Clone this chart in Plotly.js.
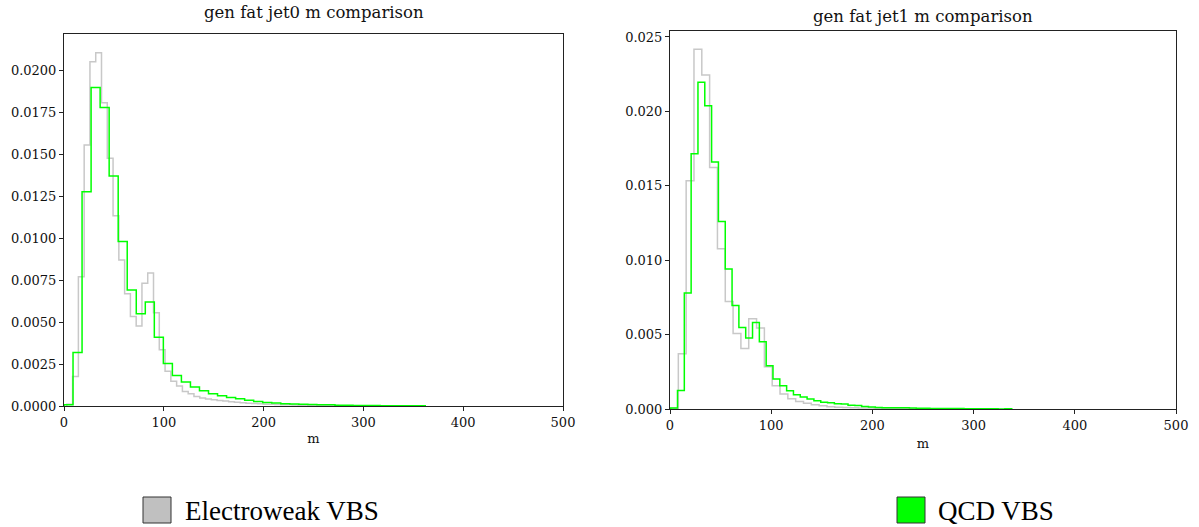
<!DOCTYPE html>
<html>
<head>
<meta charset="utf-8">
<script src="https://cdn.plot.ly/plotly-3.0.1.min.js"></script>
<style>html,body{margin:0;padding:0;background:#fff;}#chart{width:1199px;height:527px;}</style>
</head>
<body>
<div id="chart"></div>
<script>
// ---- Data ----
const seriesNames = ["Electroweak VBS", "QCD VBS"];

// jet0 mass, Electroweak VBS (bins start 2.84, width 5.79)
const ewkJet0Start = 2.84, ewkJet0Width = 5.79;
const ewkJet0 = [0.0001, 0.00176, 0.00772, 0.01557, 0.02054, 0.02108, 0.0181, 0.01478, 0.01136, 0.00872,
  0.0067, 0.00534, 0.00478, 0.00733, 0.00794, 0.00556, 0.00335, 0.00208, 0.00148, 0.0012,
  0.00086, 0.00073, 0.00057, 0.00047, 0.00042, 0.00037, 0.00033, 0.0003, 0.00025, 0.00022,
  0.0002, 0.00017, 0.00015, 0.00013, 0.00011, 0.0001, 0.00009, 0.00008, 0.00007, 0.00006,
  0.00005, 0.00005, 0.00004, 0.00004, 0.00003, 0.00003, 0.00003, 0.00002, 0.00002, 0.00002];

// jet0 mass, QCD VBS (bins start 0, width 9.05)
const qcdJet0Start = 0, qcdJet0Width = 9.05;
const qcdJet0 = [0.00007, 0.00319, 0.01279, 0.01901, 0.01782, 0.01372, 0.00981, 0.00693, 0.0055, 0.0062,
  0.00411, 0.00254, 0.00182, 0.00143, 0.00113, 0.00091, 0.00073, 0.00061, 0.00051, 0.00043,
  0.00035, 0.00027, 0.00021, 0.00018, 0.00014, 0.00012, 0.0001, 0.00009, 0.00008, 0.00007,
  0.00004, 0.00004, 0.00003, 0.00003, 0.00003, 0.00002, 0.00002, 0.00002, 0.00002, 0.00001];

// jet1 mass, Electroweak VBS (bins start 0.5, width 7.73)
const ewkJet1Start = 0.5, ewkJet1Width = 7.73;
const ewkJet1 = [0.00005, 0.00371, 0.01533, 0.02418, 0.02245, 0.01623, 0.01077, 0.00723, 0.00508, 0.00407,
  0.00607, 0.00544, 0.00284, 0.00156, 0.001, 0.00069, 0.00051, 0.00038, 0.00029, 0.00022,
  0.00015, 0.00012, 0.0001, 0.00008, 0.00007, 0.00006, 0.00005, 0.00004, 0.00003, 0.00003,
  0.00002, 0.00002, 0.00001];

// jet1 mass, QCD VBS (bins start 0.67, width 6.74)
const qcdJet1Start = 0.67, qcdJet1Width = 6.74;
const qcdJet1 = [0.00007, 0.00125, 0.00779, 0.01715, 0.02196, 0.02037, 0.01659, 0.0126, 0.0094, 0.00696,
  0.00548, 0.00477, 0.00582, 0.00452, 0.00291, 0.00202, 0.00156, 0.00123, 0.00096, 0.0008,
  0.00067, 0.00056, 0.00046, 0.00042, 0.00035, 0.00033, 0.00025, 0.00023, 0.00016, 0.00014,
  0.0001, 0.00009, 0.00009, 0.00008, 0.00008, 0.00006, 0.00005, 0.00005, 0.00004, 0.00004,
  0.00003, 0.00003, 0.00003, 0.00002, 0.00002, 0.00002, 0.00001, 0.00001, 0, 0.00001];

const plotTitles = ["gen fat jet0 m comparison", "gen fat jet1 m comparison"];
const xLabel = "m";

// ---- Helpers ----
function stepOutline(start, width, vals) {
  const xs = [start], ys = [0];
  for (let k = 0; k < vals.length; k++) { xs.push(start + k * width); ys.push(vals[k]); }
  const end = start + vals.length * width;
  xs.push(end); ys.push(vals[vals.length - 1]);
  xs.push(end); ys.push(0);
  return {x: xs, y: ys};
}

const grayCol = "#c8c8c8";
const greenCol = "#00ff00";

function trace(start, width, vals, color, name, xa, ya) {
  const s = stepOutline(start, width, vals);
  return {x: s.x, y: s.y, type: "scatter", mode: "lines", line: {shape: "hv", color: color, width: 1.5},
    name: name, xaxis: xa, yaxis: ya, showlegend: false, hoverinfo: "skip"};
}

const data = [
  trace(ewkJet0Start, ewkJet0Width, ewkJet0, grayCol, seriesNames[0], "x", "y"),
  trace(qcdJet0Start, qcdJet0Width, qcdJet0, greenCol, seriesNames[1], "x", "y"),
  trace(ewkJet1Start, ewkJet1Width, ewkJet1, grayCol, seriesNames[0], "x2", "y2"),
  trace(qcdJet1Start, qcdJet1Width, qcdJet1, greenCol, seriesNames[1], "x2", "y2")
];

const W = 1199, H = 527;
const px = v => v / W;
const py = v => 1 - v / H;
const serif = "DejaVu Serif, serif";
const legendFont = {family: "Liberation Serif, Times New Roman, serif", size: 27, color: "#000"};

const axisCommon = {
  showline: true, mirror: true, linecolor: "#222", linewidth: 1,
  ticks: "outside", ticklen: 4, tickcolor: "#222", showgrid: false, zeroline: false,
  tickfont: {family: serif, size: 13, color: "#111"}
};

const layout = {
  width: W, height: H,
  margin: {l: 0, r: 0, t: 0, b: 0},
  paper_bgcolor: "#fff", plot_bgcolor: "#fff",
  showlegend: false,
  xaxis: Object.assign({}, axisCommon, {domain: [px(64), px(563)], range: [0, 500], dtick: 100, tick0: 0,
    anchor: "y", title: {text: xLabel, font: {family: serif, size: 13, color: "#111"}, standoff: 5}}),
  yaxis: Object.assign({}, axisCommon, {domain: [py(406), py(34)], range: [0, 0.0222], dtick: 0.0025, tick0: 0,
    tickformat: ".4f", anchor: "x"}),
  xaxis2: Object.assign({}, axisCommon, {domain: [px(670), px(1176)], range: [0, 500], dtick: 100, tick0: 0,
    anchor: "y2", title: {text: xLabel, font: {family: serif, size: 13, color: "#111"}, standoff: 7}}),
  yaxis2: Object.assign({}, axisCommon, {domain: [py(409), py(31)], range: [0, 0.0254], dtick: 0.005, tick0: 0,
    tickformat: ".3f", anchor: "x2"}),
  annotations: [
    {text: plotTitles[0], xref: "paper", yref: "paper", x: px(313.5), y: py(12), xanchor: "center", yanchor: "middle",
      showarrow: false, font: {family: serif, size: 16.5, color: "#111"}},
    {text: plotTitles[1], xref: "paper", yref: "paper", x: px(923), y: py(16), xanchor: "center", yanchor: "middle",
      showarrow: false, font: {family: serif, size: 16.5, color: "#111"}},
    {text: seriesNames[0], xref: "paper", yref: "paper", x: px(183), y: py(511), xanchor: "left", yanchor: "middle",
      showarrow: false, font: legendFont},
    {text: seriesNames[1], xref: "paper", yref: "paper", x: px(936), y: py(511), xanchor: "left", yanchor: "middle",
      showarrow: false, font: legendFont}
  ],
  shapes: [
    {type: "rect", xref: "paper", yref: "paper", x0: px(143), x1: px(171), y0: py(523), y1: py(497),
      fillcolor: "#c0c0c0", line: {color: "#333", width: 1}},
    {type: "rect", xref: "paper", yref: "paper", x0: px(897), x1: px(925), y0: py(523), y1: py(497),
      fillcolor: greenCol, line: {color: "#333", width: 1}}
  ]
};

Plotly.newPlot("chart", data, layout, {displayModeBar: false, staticPlot: true});
</script>
</body>
</html>
